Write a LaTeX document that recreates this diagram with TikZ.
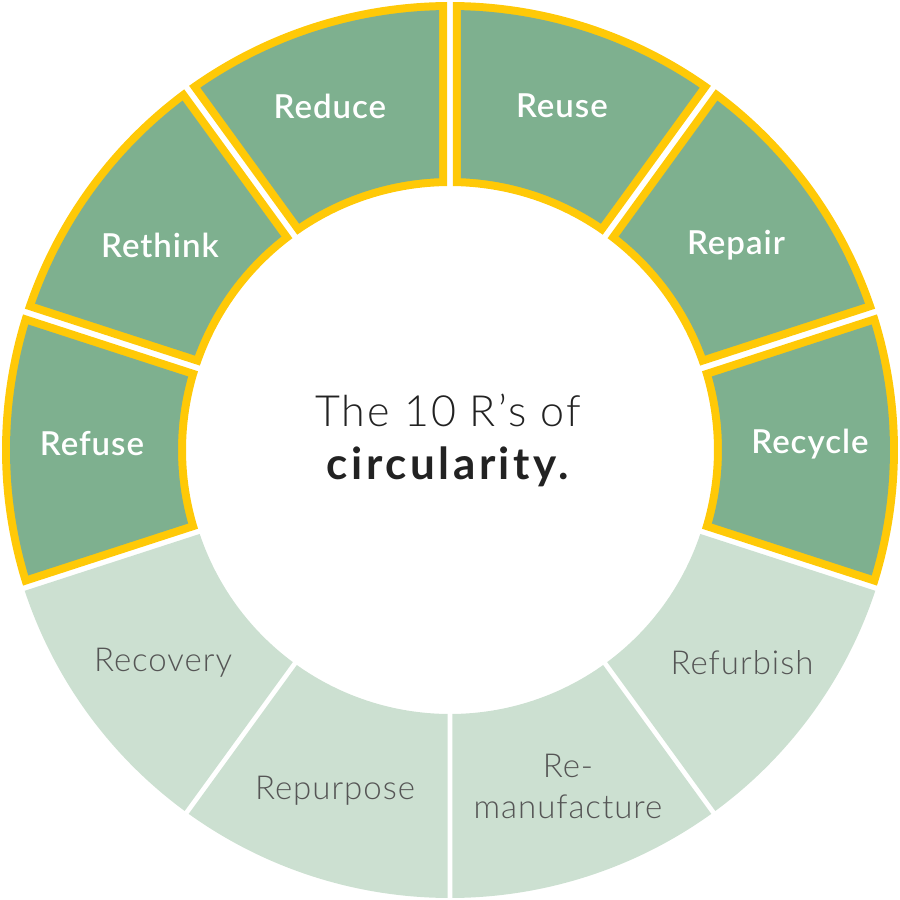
\documentclass[tikz,border=0pt]{standalone}
\usepackage{fontspec}
\setmainfont{Lato}
\newfontfamily\lightfont[LetterSpace=3]{Lato Light}
\newfontfamily\semifont[LetterSpace=3]{Lato Semibold}
\newfontfamily\titlelight[LetterSpace=5]{Lato Light}
\newfontfamily\titlebold[LetterSpace=8]{Lato Bold}
\definecolor{darkgreen}{HTML}{7EB08F}
\definecolor{lightgreen}{HTML}{CCE0D1}
\definecolor{ringyellow}{HTML}{FFC907}
\definecolor{labelgrey}{HTML}{555555}
\definecolor{centretext}{HTML}{222222}
\newcommand\ringsector[6]{%
  \pgfmathsetmacro\ao{#1+asin(#3/#4)}%
  \pgfmathsetmacro\bo{#2-asin(#3/#4)}%
  \pgfmathsetmacro\ai{#1+asin(#3/#5)}%
  \pgfmathsetmacro\bi{#2-asin(#3/#5)}%
  \fill[#6] (\ao:#4) arc[start angle=\ao, end angle=\bo, radius=#4]
    -- (\bi:#5) arc[start angle=\bi, end angle=\ai, radius=#5] -- cycle;}
\tikzset{
  hilabel/.style={text=white, font=\semifont\fontsize{16.5}{20}\selectfont, align=center},
  lolabel/.style={text=labelgrey, font=\lightfont\fontsize{16.5}{20.5}\selectfont, align=center},
  centrelabel/.style={text=centretext, align=center}
}
\begin{document}
\begin{tikzpicture}[x=0.5pt,y=0.5pt]
\useasboundingbox (-450,-450) rectangle (450,450);
% highlighted sectors
\foreach \a in {-18,18,54,90,126,162}{
  \pgfmathsetmacro\b{\a+36}
  \ringsector{\a}{\b}{3}{448}{264}{ringyellow}
  \ringsector{\a}{\b}{11}{440}{272}{darkgreen}
}
% light sectors
\foreach \a in {198,234,270,306}{
  \pgfmathsetmacro\b{\a+36}
  \ringsector{\a}{\b}{2.5}{448}{264}{lightgreen}
}
\node[hilabel] (reduce) at (-120,344) {Reduce};
\node[hilabel] (reuse) at (112,344) {Reuse};
\node[hilabel] (rethink) at (-290,205) {Rethink};
\node[hilabel] (repair) at (286,205) {Repair};
\node[hilabel] (refuse) at (-358,6) {Refuse};
\node[hilabel] (recycle) at (360,6) {Recycle};
\node[lolabel] (recovery) at (-287,-213) {Recovery};
\node[lolabel] (refurbish) at (292,-213) {Refurbish};
\node[lolabel] (repurpose) at (-115,-341) {Repurpose};
\node[lolabel] (remanufacture) at (118,-336) {Re-\\manufacture};
\node[centrelabel] (title1) at (-2,40) {\titlelight\fontsize{21.5}{26}\selectfont The 10 R’s of};
\node[centrelabel] (title2) at (-2,-17) {\titlebold\fontsize{22}{26}\selectfont circularity.};
\end{tikzpicture}
\end{document}
